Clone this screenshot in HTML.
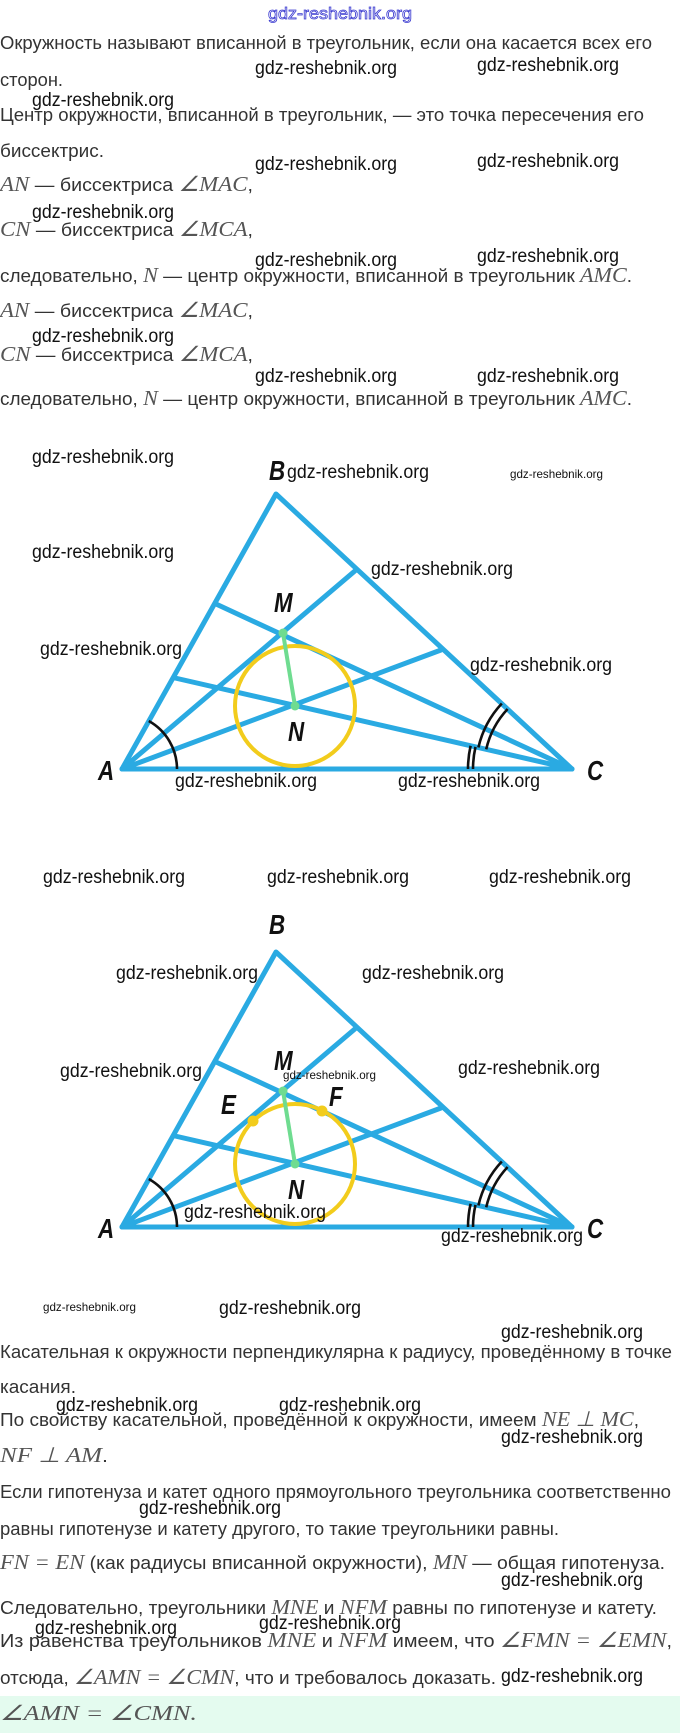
<!DOCTYPE html>
<html><head><meta charset="utf-8"><style>
html,body{margin:0;padding:0;background:#fff;}
svg{display:block;}
.t{font-family:"Liberation Sans",sans-serif;font-size:18px;fill:#333;}
.m{font-family:"Liberation Serif",serif;font-style:italic;font-size:21px;fill:#555;}
.w{font-family:"Liberation Sans",sans-serif;font-size:19px;fill:#111;}
.ws{font-family:"Liberation Sans",sans-serif;font-size:12px;fill:#111;}
.L{font-family:"Liberation Sans",sans-serif;font-weight:bold;font-style:italic;font-size:28px;fill:#111;}
</style></head><body>
<svg width="680" height="1733" viewBox="0 0 680 1733" xmlns="http://www.w3.org/2000/svg">
<rect width="680" height="1733" fill="#fff"/>
<rect x="0" y="1696" width="680" height="37" fill="#e4fbef"/>
<text x="268" y="19" textLength="144" lengthAdjust="spacingAndGlyphs" style="font-family:'Liberation Sans',sans-serif;font-size:17px;fill:#fff;stroke:#3a3ad0;stroke-width:0.8">gdz-reshebnik.org</text>

<!-- top text -->
<text class="t" x="0" y="49" textLength="652" lengthAdjust="spacingAndGlyphs">Окружность называют вписанной в треугольник, если она касается всех его</text>
<text class="t" x="0" y="86" textLength="63" lengthAdjust="spacingAndGlyphs">сторон.</text>
<text class="t" x="0" y="121" textLength="644" lengthAdjust="spacingAndGlyphs">Центр окружности, вписанной в треугольник, — это точка пересечения его</text>
<text class="t" x="0" y="157" textLength="104" lengthAdjust="spacingAndGlyphs">биссектрис.</text>
<text class="t" x="0" y="191" textLength="253" lengthAdjust="spacingAndGlyphs"><tspan class="m">AN</tspan> — биссектриса <tspan class="m">∠MAC</tspan>,</text>
<text class="t" x="0" y="236" textLength="253" lengthAdjust="spacingAndGlyphs"><tspan class="m">CN</tspan> — биссектриса <tspan class="m">∠MCA</tspan>,</text>
<text class="t" x="0" y="282" textLength="632" lengthAdjust="spacingAndGlyphs">следовательно, <tspan class="m">N</tspan> — центр окружности, вписанной в треугольник <tspan class="m">AMC</tspan>.</text>
<text class="t" x="0" y="317" textLength="253" lengthAdjust="spacingAndGlyphs"><tspan class="m">AN</tspan> — биссектриса <tspan class="m">∠MAC</tspan>,</text>
<text class="t" x="0" y="361" textLength="253" lengthAdjust="spacingAndGlyphs"><tspan class="m">CN</tspan> — биссектриса <tspan class="m">∠MCA</tspan>,</text>
<text class="t" x="0" y="405" textLength="632" lengthAdjust="spacingAndGlyphs">следовательно, <tspan class="m">N</tspan> — центр окружности, вписанной в треугольник <tspan class="m">AMC</tspan>.</text>

<!-- figure 1 -->
<g id="fig">
<g stroke="#2aaae2" stroke-width="5" fill="none" stroke-linecap="round" stroke-linejoin="round">
<polygon points="122,769 276,494 572,769"/>
<line x1="122" y1="769" x2="441" y2="650"/>
<line x1="572" y1="769" x2="175" y2="678"/>
<line x1="122" y1="769" x2="356" y2="570"/>
<line x1="572" y1="769" x2="216" y2="604"/>
</g>
<circle cx="295" cy="706" r="60" fill="none" stroke="#f2cc1c" stroke-width="4"/>
<line x1="283" y1="633" x2="295" y2="706" stroke="#6fdc90" stroke-width="4"/>
<circle cx="283" cy="633" r="4.5" fill="#6fdc90"/>
<circle cx="295" cy="706" r="4.5" fill="#6fdc90"/>
<g stroke="#111" stroke-width="2.6" fill="none">
<path d="M148.8,721 A55,55 0 0 1 177,769"/>
<path d="M473,769 A99,99 0 0 1 475.5,746.9"/>
<path d="M468,769 A104,104 0 0 1 470.6,745.8"/>
<path d="M486.2,749.3 A88,88 0 0 1 507.6,709"/>
<path d="M478.4,747.4 A96,96 0 0 1 501.8,703.5"/>
</g>
<text class="L" x="269" y="480" transform="translate(269 0) scale(0.8 1) translate(-269 0)">B</text>
<text class="L" x="274" y="612" transform="translate(274 0) scale(0.8 1) translate(-274 0)">M</text>
<text class="L" x="288" y="741" transform="translate(288 0) scale(0.8 1) translate(-288 0)">N</text>
<text class="L" x="98" y="780" transform="translate(98 0) scale(0.8 1) translate(-98 0)">A</text>
<text class="L" x="587" y="780" transform="translate(587 0) scale(0.8 1) translate(-587 0)">C</text>
</g>

<!-- figure 2 -->
<g transform="translate(0,458)">
<g stroke="#2aaae2" stroke-width="5" fill="none" stroke-linecap="round" stroke-linejoin="round">
<polygon points="122,769 276,494 572,769"/>
<line x1="122" y1="769" x2="441" y2="650"/>
<line x1="572" y1="769" x2="175" y2="678"/>
<line x1="122" y1="769" x2="356" y2="570"/>
<line x1="572" y1="769" x2="216" y2="604"/>
</g>
<circle cx="295" cy="706" r="60" fill="none" stroke="#f2cc1c" stroke-width="4"/>
<line x1="283" y1="633" x2="295" y2="706" stroke="#6fdc90" stroke-width="4"/>
<circle cx="283" cy="633" r="4.5" fill="#6fdc90"/>
<circle cx="295" cy="706" r="4.5" fill="#6fdc90"/>
<circle cx="253" cy="663" r="5.5" fill="#f2cc1c"/>
<circle cx="322" cy="653" r="5.5" fill="#f2cc1c"/>
<g stroke="#111" stroke-width="2.6" fill="none">
<path d="M148.8,721 A55,55 0 0 1 177,769"/>
<path d="M473,769 A99,99 0 0 1 475.5,746.9"/>
<path d="M468,769 A104,104 0 0 1 470.6,745.8"/>
<path d="M486.2,749.3 A88,88 0 0 1 507.6,709"/>
<path d="M478.4,747.4 A96,96 0 0 1 501.8,703.5"/>
</g>
<text class="L" x="269" y="476" transform="translate(269 0) scale(0.8 1) translate(-269 0)">B</text>
<text class="L" x="274" y="612" transform="translate(274 0) scale(0.8 1) translate(-274 0)">M</text>
<text class="L" x="288" y="741" transform="translate(288 0) scale(0.8 1) translate(-288 0)">N</text>
<text class="L" x="98" y="780" transform="translate(98 0) scale(0.8 1) translate(-98 0)">A</text>
<text class="L" x="587" y="780" transform="translate(587 0) scale(0.8 1) translate(-587 0)">C</text>
<text class="L" x="221" y="656" transform="translate(221 0) scale(0.8 1) translate(-221 0)">E</text>
<text class="L" x="329" y="648" transform="translate(329 0) scale(0.8 1) translate(-329 0)">F</text>
</g>

<!-- bottom text -->
<text class="t" x="0" y="1358" textLength="672" lengthAdjust="spacingAndGlyphs">Касательная к окружности перпендикулярна к радиусу, проведённому в точке</text>
<text class="t" x="0" y="1393" textLength="76" lengthAdjust="spacingAndGlyphs">касания.</text>
<text class="t" x="0" y="1426" textLength="639" lengthAdjust="spacingAndGlyphs">По свойству касательной, проведённой к окружности, имеем <tspan class="m">NE ⊥ MC</tspan>,</text>
<text class="t" x="0" y="1462" textLength="108" lengthAdjust="spacingAndGlyphs"><tspan class="m">NF ⊥ AM</tspan>.</text>
<text class="t" x="0" y="1498" textLength="671" lengthAdjust="spacingAndGlyphs">Если гипотенуза и катет одного прямоугольного треугольника соответственно</text>
<text class="t" x="0" y="1535" textLength="559" lengthAdjust="spacingAndGlyphs">равны гипотенузе и катету другого, то такие треугольники равны.</text>
<text class="t" x="0" y="1569" textLength="665" lengthAdjust="spacingAndGlyphs"><tspan class="m">FN = EN</tspan> (как радиусы вписанной окружности), <tspan class="m">MN</tspan> — общая гипотенуза.</text>
<text class="t" x="0" y="1614" textLength="657" lengthAdjust="spacingAndGlyphs">Следовательно, треугольники <tspan class="m">MNE</tspan> и <tspan class="m">NFM</tspan> равны по гипотенузе и катету.</text>
<text class="t" x="0" y="1647" textLength="672" lengthAdjust="spacingAndGlyphs">Из равенства треугольников <tspan class="m">MNE</tspan> и <tspan class="m">NFM</tspan> имеем, что <tspan class="m">∠FMN = ∠EMN</tspan>,</text>
<text class="t" x="0" y="1684" textLength="496" lengthAdjust="spacingAndGlyphs">отсюда, <tspan class="m">∠AMN = ∠CMN</tspan>, что и требовалось доказать.</text>
<text class="m" x="0" y="1720" textLength="197" lengthAdjust="spacingAndGlyphs">∠AMN = ∠CMN.</text>

<!-- watermarks -->
<g class="w">
<text class="w" x="255" y="74" textLength="142" lengthAdjust="spacingAndGlyphs">gdz-reshebnik.org</text>
<text class="w" x="477" y="71" textLength="142" lengthAdjust="spacingAndGlyphs">gdz-reshebnik.org</text>
<text class="w" x="32" y="106" textLength="142" lengthAdjust="spacingAndGlyphs">gdz-reshebnik.org</text>
<text class="w" x="255" y="170" textLength="142" lengthAdjust="spacingAndGlyphs">gdz-reshebnik.org</text>
<text class="w" x="477" y="167" textLength="142" lengthAdjust="spacingAndGlyphs">gdz-reshebnik.org</text>
<text class="w" x="32" y="218" textLength="142" lengthAdjust="spacingAndGlyphs">gdz-reshebnik.org</text>
<text class="w" x="255" y="266" textLength="142" lengthAdjust="spacingAndGlyphs">gdz-reshebnik.org</text>
<text class="w" x="477" y="262" textLength="142" lengthAdjust="spacingAndGlyphs">gdz-reshebnik.org</text>
<text class="w" x="32" y="342" textLength="142" lengthAdjust="spacingAndGlyphs">gdz-reshebnik.org</text>
<text class="w" x="255" y="382" textLength="142" lengthAdjust="spacingAndGlyphs">gdz-reshebnik.org</text>
<text class="w" x="477" y="382" textLength="142" lengthAdjust="spacingAndGlyphs">gdz-reshebnik.org</text>
<text class="w" x="32" y="463" textLength="142" lengthAdjust="spacingAndGlyphs">gdz-reshebnik.org</text>
<text class="w" x="287" y="478" textLength="142" lengthAdjust="spacingAndGlyphs">gdz-reshebnik.org</text>
<text class="ws" x="510" y="478" textLength="93" lengthAdjust="spacingAndGlyphs">gdz-reshebnik.org</text>
<text class="w" x="32" y="558" textLength="142" lengthAdjust="spacingAndGlyphs">gdz-reshebnik.org</text>
<text class="w" x="371" y="575" textLength="142" lengthAdjust="spacingAndGlyphs">gdz-reshebnik.org</text>
<text class="w" x="40" y="655" textLength="142" lengthAdjust="spacingAndGlyphs">gdz-reshebnik.org</text>
<text class="w" x="470" y="671" textLength="142" lengthAdjust="spacingAndGlyphs">gdz-reshebnik.org</text>
<text class="w" x="175" y="787" textLength="142" lengthAdjust="spacingAndGlyphs">gdz-reshebnik.org</text>
<text class="w" x="398" y="787" textLength="142" lengthAdjust="spacingAndGlyphs">gdz-reshebnik.org</text>
<text class="w" x="43" y="883" textLength="142" lengthAdjust="spacingAndGlyphs">gdz-reshebnik.org</text>
<text class="w" x="267" y="883" textLength="142" lengthAdjust="spacingAndGlyphs">gdz-reshebnik.org</text>
<text class="w" x="489" y="883" textLength="142" lengthAdjust="spacingAndGlyphs">gdz-reshebnik.org</text>
<text class="w" x="116" y="979" textLength="142" lengthAdjust="spacingAndGlyphs">gdz-reshebnik.org</text>
<text class="w" x="362" y="979" textLength="142" lengthAdjust="spacingAndGlyphs">gdz-reshebnik.org</text>
<text class="w" x="60" y="1077" textLength="142" lengthAdjust="spacingAndGlyphs">gdz-reshebnik.org</text>
<text class="w" x="458" y="1074" textLength="142" lengthAdjust="spacingAndGlyphs">gdz-reshebnik.org</text>
<text class="ws" x="283" y="1079" textLength="93" lengthAdjust="spacingAndGlyphs">gdz-reshebnik.org</text>
<text class="w" x="184" y="1218" textLength="142" lengthAdjust="spacingAndGlyphs">gdz-reshebnik.org</text>
<text class="w" x="441" y="1242" textLength="142" lengthAdjust="spacingAndGlyphs">gdz-reshebnik.org</text>
<text class="ws" x="43" y="1311" textLength="93" lengthAdjust="spacingAndGlyphs">gdz-reshebnik.org</text>
<text class="w" x="219" y="1314" textLength="142" lengthAdjust="spacingAndGlyphs">gdz-reshebnik.org</text>
<text class="w" x="501" y="1338" textLength="142" lengthAdjust="spacingAndGlyphs">gdz-reshebnik.org</text>
<text class="w" x="56" y="1411" textLength="142" lengthAdjust="spacingAndGlyphs">gdz-reshebnik.org</text>
<text class="w" x="279" y="1411" textLength="142" lengthAdjust="spacingAndGlyphs">gdz-reshebnik.org</text>
<text class="w" x="501" y="1443" textLength="142" lengthAdjust="spacingAndGlyphs">gdz-reshebnik.org</text>
<text class="w" x="139" y="1514" textLength="142" lengthAdjust="spacingAndGlyphs">gdz-reshebnik.org</text>
<text class="w" x="501" y="1586" textLength="142" lengthAdjust="spacingAndGlyphs">gdz-reshebnik.org</text>
<text class="w" x="35" y="1634" textLength="142" lengthAdjust="spacingAndGlyphs">gdz-reshebnik.org</text>
<text class="w" x="259" y="1629" textLength="142" lengthAdjust="spacingAndGlyphs">gdz-reshebnik.org</text>
<text class="w" x="501" y="1682" textLength="142" lengthAdjust="spacingAndGlyphs">gdz-reshebnik.org</text>
</g>
</svg>
</body></html>
